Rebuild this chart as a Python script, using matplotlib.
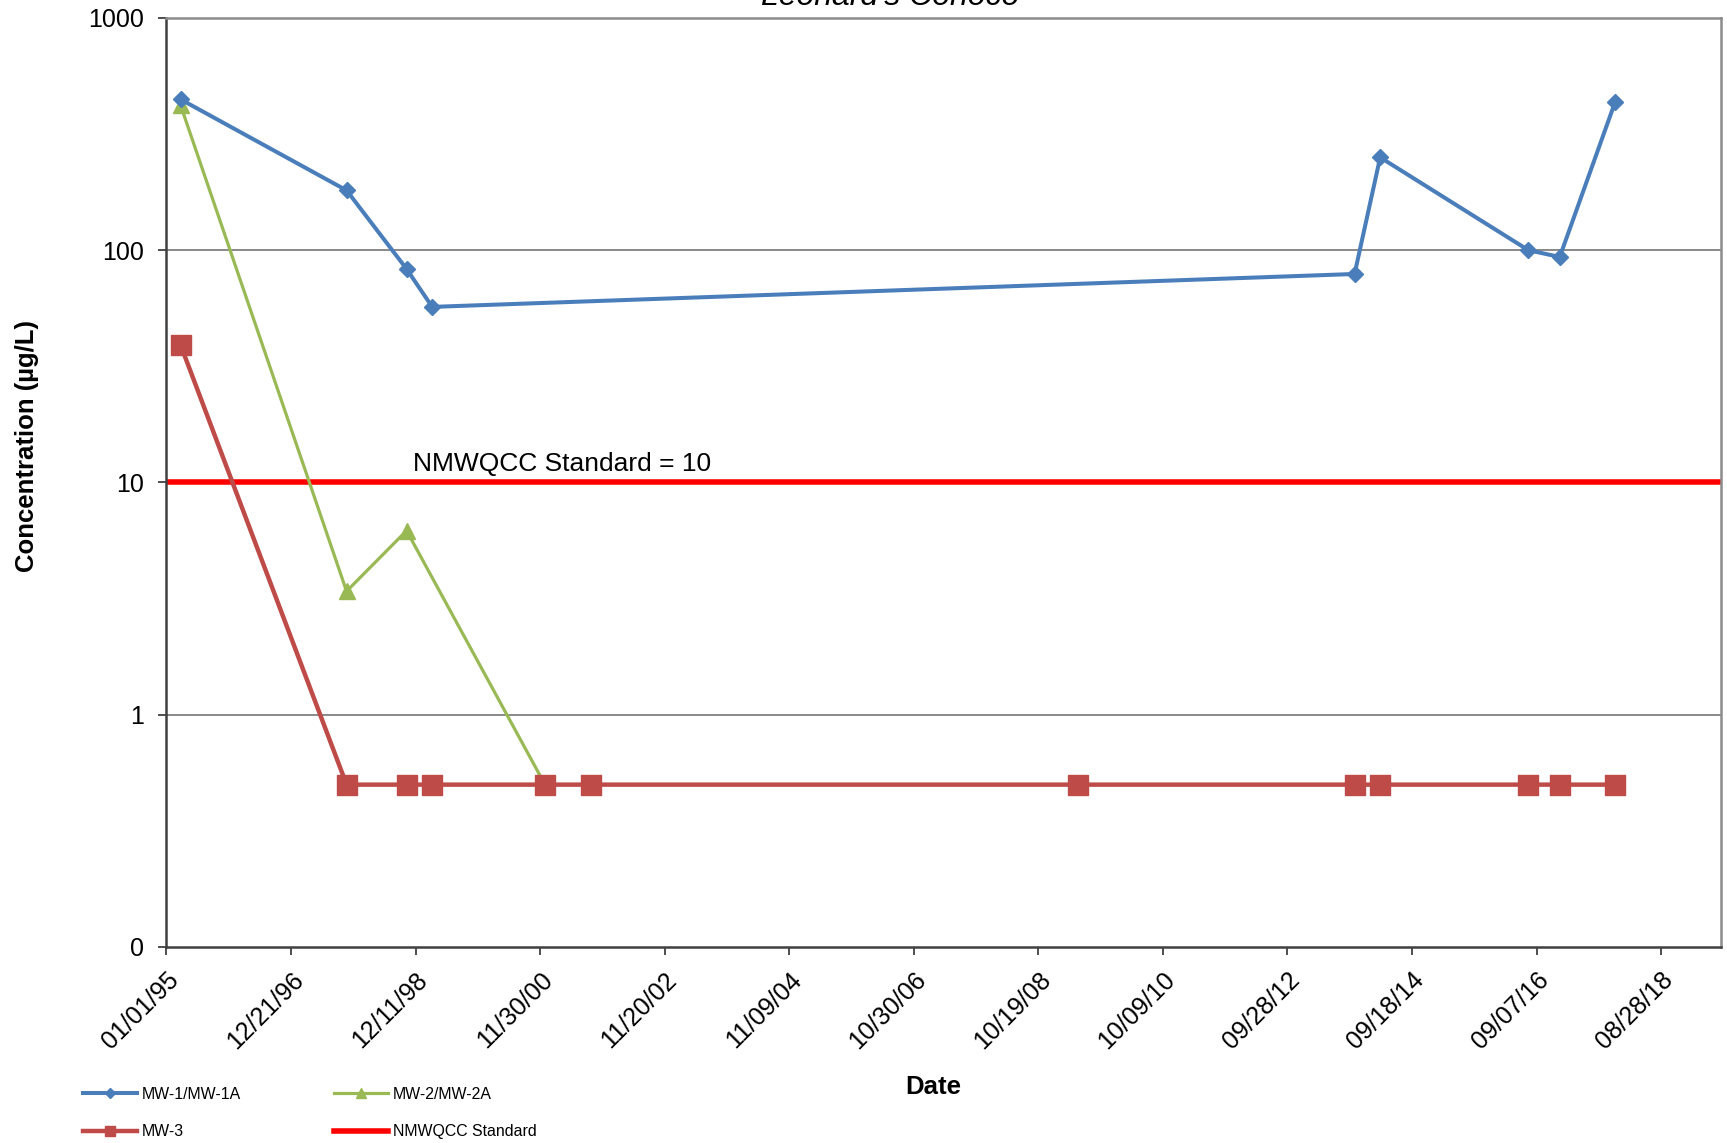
import matplotlib
matplotlib.use("Agg")
import matplotlib.pyplot as plt
import matplotlib.dates as mdates
import numpy as np

plt.rcParams['font.family'] = ['Liberation Sans', 'DejaVu Sans']

# sample dates
mw1_dates = ['1995-03-24', '1997-11-07', '1998-10-20', '1999-03-17', '2013-10-21',
             '2014-03-18', '2016-07-22', '2017-01-19', '2017-12-05']
mw1_vals = [446, 181, 83, 57, 79, 251, 100, 93.5, 434]

mw2_dates = ['1995-03-24', '1997-11-07', '1998-10-20', '2000-12-28']
mw2_vals = [420, 3.4, 6.2, 0.5]

mw3_dates = ['1995-03-24', '1997-11-07', '1998-10-20', '1999-03-17', '2000-12-28',
             '2001-09-20', '2009-06-08', '2013-10-21', '2014-03-18', '2016-07-22',
             '2017-01-19', '2017-12-05']
mw3_vals = [39, 0.5, 0.5, 0.5, 0.5, 0.5, 0.5, 0.5, 0.5, 0.5, 0.5, 0.5]

standard = 10
yticks = [0.1, 1, 10, 100, 1000]
ytick_labels = ['0', '1', '10', '100', '1000']


def to_num(ds):
    return mdates.date2num(np.array(ds, dtype='datetime64[D]'))


fig = plt.figure(figsize=(17.27, 11.43), dpi=100)
ax = fig.add_axes([0.0964, 0.1715, 0.9, 0.8128])

blue = '#4A7EBB'
green = '#98B954'
red = '#BE4B48'

start = np.datetime64('1995-01-01')
x0 = mdates.date2num(start)
x1 = x0 + 8985

lstd = ax.axhline(standard, color='#FF0000', lw=4, zorder=2, label='NMWQCC Standard')
l1, = ax.plot(to_num(mw1_dates), mw1_vals, color=blue, lw=2.9, marker='D', ms=8.5,
              zorder=5, label='MW-1/MW-1A')
l2, = ax.plot(to_num(mw2_dates), mw2_vals, color=green, lw=2.3, marker='^', ms=12,
              zorder=4, label='MW-2/MW-2A')
l3, = ax.plot(to_num(mw3_dates), mw3_vals, color=red, lw=3.2, marker='s', ms=14,
              zorder=6, label='MW-3')

ax.set_yscale('log')
ax.set_ylim(0.1, 1000)
ax.set_yticks(yticks)
ax.set_yticklabels(ytick_labels)
ax.yaxis.set_minor_locator(matplotlib.ticker.NullLocator())
for v in [1, 10, 100]:
    ax.axhline(v, color='#808080', lw=1.3, zorder=1)

xt = [x0 + 720 * k for k in range(13)]
ax.set_xlim(x0, x1)
ax.set_xticks(xt)
ax.xaxis.set_major_formatter(mdates.DateFormatter('%m/%d/%y'))
plt.setp(ax.get_xticklabels(), rotation=45, ha='right', va='top', rotation_mode='anchor')

ax.tick_params(axis='both', labelsize=18, direction='out', length=6, width=1.3,
               color='#404040')
ax.tick_params(axis='x', pad=9)
ax.tick_params(axis='y', pad=10)

for s in ['left', 'bottom']:
    ax.spines[s].set_color('#404040')
    ax.spines[s].set_linewidth(1.8)
for s in ['top', 'right']:
    ax.spines[s].set_color('#8C8C8C')
    ax.spines[s].set_linewidth(1.8)

ax.text(0.1588, 0.512, 'NMWQCC Standard = 10', transform=ax.transAxes, fontsize=19,
        ha='left', va='baseline')

fig.text(27.5 / 1727, 1 - 446 / 1143, 'Concentration (\u00b5g/L)', rotation=90,
         fontsize=18.5, fontweight='bold', ha='center', va='center')
fig.text(933 / 1727, 1 - 1087 / 1143, 'Date', fontsize=18.5, fontweight='bold',
         ha='center', va='center')
fig.text(890 / 1727, 1 - 4.7 / 1143, "Leonard's Conoco", fontsize=23, style='italic',
         ha='center', va='baseline')

fig.legend(handles=[l1, l3, l2, lstd], loc='upper left',
           bbox_to_anchor=(82.7 / 1727, 1 - 1087 / 1143), ncol=2, frameon=False,
           fontsize=11.4, handlelength=3.4, handletextpad=0.3, columnspacing=5.9,
           labelspacing=1.4, borderpad=0, borderaxespad=0, markerscale=0.55)

fig.savefig('out.png', dpi=100)
